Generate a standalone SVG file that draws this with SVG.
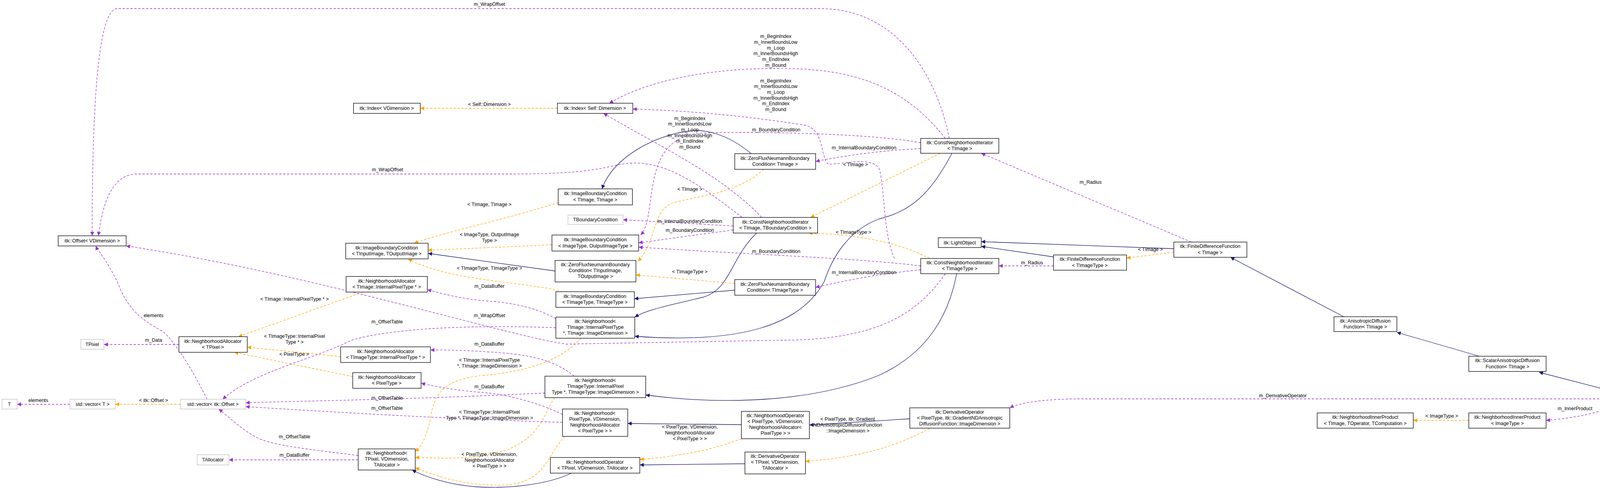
<svg xmlns="http://www.w3.org/2000/svg" width="4301" height="1248" viewBox="0 0 4301 1248">
<style>
text{font-family:"Liberation Sans",Arial,sans-serif;font-size:12.5px;fill:#000;text-anchor:middle}
.n rect{fill:#fff;stroke:#000;stroke-width:1.3}
.u rect{fill:#fff;stroke:#bfbfbf;stroke-width:1.3}
.g rect{fill:#bfbfbf;stroke:#000;stroke-width:1.3}
.inh{fill:none;stroke:#191970;stroke-width:1.3;marker-end:url(#an)}
.tpl{fill:none;stroke:#ffa500;stroke-width:1.3;stroke-dasharray:6,4;marker-end:url(#ao)}
.use{fill:none;stroke:#9a32cd;stroke-width:1.3;stroke-dasharray:6,4;marker-end:url(#ap)}
</style>
<defs>
<marker id="an" viewBox="0 0 10 10" refX="10" refY="5" markerWidth="13" markerHeight="10" markerUnits="userSpaceOnUse" orient="auto"><path d="M0,0L10,5L0,10z" fill="#191970"/></marker>
<marker id="ao" viewBox="0 0 10 10" refX="10" refY="5" markerWidth="13" markerHeight="10" markerUnits="userSpaceOnUse" orient="auto"><path d="M0,0L10,5L0,10z" fill="#ffa500"/></marker>
<marker id="ap" viewBox="0 0 10 10" refX="10" refY="5" markerWidth="13" markerHeight="10" markerUnits="userSpaceOnUse" orient="auto"><path d="M0,0L10,5L0,10z" fill="#9a32cd"/></marker>
</defs>
<rect width="4301" height="1248" fill="#fff"/>
<g id="connectors">
<path class="inh" d="M1923,393 C1860,340 1800,330 1766,335 C1680,345 1570,400 1541,483"/>
<path class="inh" d="M1421,693 L1096,648"/>
<path class="inh" d="M1881,742 L1624,764"/>
<path class="inh" d="M1937,596 C1870,660 1870,740 1800,760 C1720,780 1660,790 1625,811"/>
<path class="inh" d="M2437,392 C2380,500 2330,540 2250,560 C2170,590 2130,660 2110,720 C2050,830 1900,880 1625,860"/>
<path class="inh" d="M2449,700 C2430,800 2380,900 2250,960 C2050,1040 1800,1030 1653,1010"/>
<path class="inh" d="M1898,1086 L1607,1083"/>
<path class="inh" d="M1907,1186 L1638,1189"/>
<path class="inh" d="M2329,1071 L2072,1087"/>
<path class="inh" d="M1463,1210 C1400,1240 1300,1250 1220,1245 C1150,1240 1090,1220 1055,1202"/>
<path class="inh" d="M3005,636 L2512,618"/>
<path class="inh" d="M2697,657 L2512,630"/>
<path class="inh" d="M3440,810 L3150,658"/>
<path class="inh" d="M3787,911 L3576,850"/>
<path class="inh" d="M4125,1000 L3940,952"/>

<path class="tpl" d="M1427,277 L1076,277"/>
<path class="tpl" d="M1429,518 C1300,560 1150,590 1060,622"/>
<path class="tpl" d="M1413,626 L1096,640"/>
<path class="tpl" d="M1440,746 C1350,720 1150,720 1045,662"/>
<path class="tpl" d="M1955,433 C1880,500 1780,500 1720,520 C1670,540 1680,620 1633,668"/>
<path class="tpl" d="M1881,725 L1628,703"/>
<path class="tpl" d="M2407,392 L2075,556"/>
<path class="tpl" d="M2380,661 C2300,620 2200,600 2070,596"/>
<path class="tpl" d="M929,747 L610,861"/>
<path class="tpl" d="M872,912 L633,888"/>
<path class="tpl" d="M903,963 L600,901"/>
<path class="tpl" d="M1487,865 C1440,920 1350,950 1240,960 C1120,970 1110,1020 1100,1080 C1090,1120 1080,1140 1063,1155"/>
<path class="tpl" d="M1420,1017 C1390,1060 1390,1110 1300,1150 C1200,1180 1120,1170 1063,1170"/>
<path class="tpl" d="M1447,1116 C1400,1160 1400,1230 1300,1240 C1200,1245 1120,1220 1063,1196"/>
<path class="tpl" d="M1898,1122 C1800,1160 1700,1170 1638,1175"/>
<path class="tpl" d="M2380,1095 C2300,1140 2200,1170 2062,1180"/>
<path class="tpl" d="M462,1034 L295,1034"/>
<path class="tpl" d="M3005,645 L2884,660"/>
<path class="tpl" d="M3760,1075 L3618,1075"/>

<path class="use" d="M2430,354 C2400,200 2300,22 2100,22 L300,22 C240,22 236,400 236,603"/>
<path class="use" d="M1900,556 C1800,480 1700,400 1590,420 C1520,435 1480,445 1300,445 L350,445 C280,445 260,540 252,603"/>
<path class="use" d="M2420,700 C2350,800 2250,870 2000,870 L1450,880 C1300,860 800,700 323,629"/>
<path class="use" d="M1423,838 C1200,830 1000,840 900,870 C800,920 650,950 570,1021"/>
<path class="use" d="M1395,1005 C1100,1020 800,1025 629,1030"/>
<path class="use" d="M1440,1080 C1100,1070 800,1050 629,1040"/>
<path class="use" d="M917,1165 C800,1150 700,1140 660,1120 C620,1100 590,1070 560,1046"/>
<path class="use" d="M530,1021 C500,960 460,890 420,850 C370,820 330,800 300,720 C270,660 250,640 245,629"/>
<path class="use" d="M179,1034 L44,1034"/>
<path class="use" d="M458,881 L266,881"/>
<path class="use" d="M917,1176 L586,1176"/>
<path class="use" d="M1423,815 C1380,790 1320,775 1250,770 C1180,765 1130,750 1094,741"/>
<path class="use" d="M1470,962 C1420,920 1350,905 1250,900 C1180,895 1130,895 1102,895"/>
<path class="use" d="M1440,1060 C1380,1030 1300,1010 1250,1005 C1180,1000 1120,990 1078,980"/>
<path class="use" d="M2420,354 C2300,200 2150,175 1990,175 C1800,175 1650,210 1560,264"/>
<path class="use" d="M2290,661 C2260,600 2265,470 2250,430 C2230,400 2160,420 2120,420 C2100,400 2110,330 2060,320 C1900,295 1750,282 1620,279"/>
<path class="use" d="M1950,556 C1850,450 1700,380 1545,290"/>
<path class="use" d="M2357,380 C2250,385 2150,400 2088,413"/>
<path class="use" d="M2357,365 C2250,345 2000,335 1800,340 C1700,345 1680,420 1670,480 C1660,540 1660,580 1640,601"/>
<path class="use" d="M1877,578 L1595,562"/>
<path class="use" d="M1877,588 L1635,621"/>
<path class="use" d="M2357,680 C2200,660 1900,650 1635,632"/>
<path class="use" d="M2357,690 C2250,700 2150,720 2088,735"/>
<path class="use" d="M3050,619 L2512,392"/>
<path class="use" d="M2697,680 L2557,680"/>
<path class="use" d="M4104,1020 L2770,1020 C2650,1020 2600,1035 2585,1043"/>
<path class="use" d="M4130,1039 C4080,1060 4020,1070 3958,1075"/>

<g id="labels">
<text x="1253" y="271">&lt; Self::Dimension &gt;</text>
<text x="1253" y="527">&lt; TImage, TImage &gt;</text>
<text x="1253" y="604">&lt; ImageType, OutputImage</text><text x="1253" y="619">Type &gt;</text>
<text x="1253" y="690">&lt; TImageType, TImageType &gt;</text>
<text x="1766" y="488">&lt; TImage &gt;</text>
<text x="1766" y="699">&lt; TImageType &gt;</text>
<text x="2190" y="425">&lt; TImage &gt;</text>
<text x="2185" y="598">&lt; TImageType &gt;</text>
<text x="754" y="769">&lt; TImage::InternalPixelType * &gt;</text>
<text x="754" y="864">&lt; TImageType::InternalPixel</text><text x="754" y="879">Type * &gt;</text>
<text x="753" y="910">&lt; PixelType &gt;</text>
<text x="1253" y="925">&lt; TImage::InternalPixelType</text><text x="1253" y="940">*, TImage::ImageDimension &gt;</text>
<text x="1253" y="1058">&lt; TImageType::InternalPixel</text><text x="1253" y="1073">Type *, TImageType::ImageDimension &gt;</text>
<text x="1253" y="1166">&lt; PixelType, VDimension,</text><text x="1253" y="1181">NeighborhoodAllocator</text><text x="1253" y="1196">&lt; PixelType &gt; &gt;</text>
<text x="1766" y="1096">&lt; PixelType, VDimension,</text><text x="1766" y="1111">NeighborhoodAllocator</text><text x="1766" y="1126">&lt; PixelType &gt; &gt;</text>
<text x="2170" y="1076">&lt; PixelType, itk::Gradient</text><text x="2170" y="1091">NDAnisotropicDiffusionFunction</text><text x="2170" y="1106">::ImageDimension &gt;</text>
<text x="393" y="1028">&lt; itk::Offset &gt;</text>
<text x="2945" y="642">&lt; TImage &gt;</text>
<text x="3691" y="1068">&lt; ImageType &gt;</text>
<text x="1253" y="15">m_WrapOffset</text>
<text x="992" y="438">m_WrapOffset</text>
<text x="1253" y="811">m_WrapOffset</text>
<text x="991" y="827">m_OffsetTable</text>
<text x="991" y="1022">m_OffsetTable</text>
<text x="991" y="1048">m_OffsetTable</text>
<text x="754" y="1121">m_OffsetTable</text>
<text x="393" y="811">elements</text>
<text x="98" y="1028">elements</text>
<text x="393" y="874">m_Data</text>
<text x="754" y="1168">m_DataBuffer</text>
<text x="1253" y="736">m_DataBuffer</text>
<text x="1253" y="884">m_DataBuffer</text>
<text x="1253" y="993">m_DataBuffer</text>
<text x="1986" y="97">m_BeginIndex</text><text x="1986" y="112">m_InnerBoundsLow</text><text x="1986" y="127">m_Loop</text><text x="1986" y="141">m_InnerBoundsHigh</text><text x="1986" y="156">m_EndIndex</text><text x="1986" y="171">m_Bound</text>
<text x="1986" y="211">m_BeginIndex</text><text x="1986" y="225">m_InnerBoundsLow</text><text x="1986" y="240">m_Loop</text><text x="1986" y="255">m_InnerBoundsHigh</text><text x="1986" y="269">m_EndIndex</text><text x="1986" y="284">m_Bound</text>
<text x="1766" y="307">m_BeginIndex</text><text x="1766" y="321">m_InnerBoundsLow</text><text x="1766" y="336">m_Loop</text><text x="1766" y="351">m_InnerBoundsHigh</text><text x="1766" y="365">m_EndIndex</text><text x="1766" y="380">m_Bound</text>
<text x="1987" y="336">m_BoundaryCondition</text>
<text x="2212" y="382">m_InternalBoundaryCondition</text>
<text x="1766" y="570">m_InternalBoundaryCondition</text>
<text x="1766" y="593">m_BoundaryCondition</text>
<text x="1987" y="647">m_BoundaryCondition</text>
<text x="2212" y="701">m_InternalBoundaryCondition</text>
<text x="2792" y="470">m_Radius</text>
<text x="2642" y="676">m_Radius</text>
<text x="3284" y="1016">m_DerivativeOperator</text>
<text x="4032" y="1049">m_InnerProduct</text>
</g>
</g>

<g id="offset" class="n"><rect x="149" y="603" width="174" height="26"/><text x="236" y="620">itk::Offset&lt; VDimension &gt;</text></g>
<g id="ibc_in_out" class="n"><rect x="885" y="622" width="211" height="40"/><text x="990" y="638">itk::ImageBoundaryCondition</text><text x="990" y="653">&lt; TInputImage, TOutputImage &gt;</text></g>
<g id="na_timage" class="n"><rect x="886" y="707" width="208" height="40"/><text x="990" y="723">itk::NeighborhoodAllocator</text><text x="990" y="738">&lt; TImage::InternalPixelType * &gt;</text></g>
<g id="tpixel" class="u"><rect x="207" y="868" width="59" height="25"/><text x="236" y="885">TPixel</text></g>
<g id="na_tpixel" class="n"><rect x="458" y="861" width="175" height="40"/><text x="545" y="877">itk::NeighborhoodAllocator</text><text x="545" y="892">&lt; TPixel &gt;</text></g>
<g id="na_timagetype" class="n"><rect x="872" y="887" width="230" height="40"/><text x="987" y="903">itk::NeighborhoodAllocator</text><text x="987" y="918">&lt; TImageType::InternalPixelType * &gt;</text></g>
<g id="na_pixeltype" class="n"><rect x="903" y="953" width="175" height="40"/><text x="990" y="969">itk::NeighborhoodAllocator</text><text x="990" y="984">&lt; PixelType &gt;</text></g>
<g id="t" class="u"><rect x="5" y="1021" width="39" height="25"/><text x="24" y="1038">T</text></g>
<g id="vector_t" class="u"><rect x="179" y="1021" width="116" height="25"/><text x="237" y="1038">std::vector&lt; T &gt;</text></g>
<g id="vector_offset" class="u"><rect x="462" y="1021" width="167" height="25"/><text x="545" y="1038">std::vector&lt; itk::Offset &gt;</text></g>
<g id="tallocator" class="u"><rect x="505" y="1163" width="81" height="26"/><text x="545" y="1180">TAllocator</text></g>
<g id="nb_tpixel" class="n"><rect x="917" y="1148" width="146" height="54"/><text x="990" y="1163">itk::Neighborhood&lt;</text><text x="990" y="1178">TPixel, VDimension,</text><text x="990" y="1193">TAllocator &gt;</text></g>
<g id="index_vdim" class="n"><rect x="905" y="264" width="171" height="26"/><text x="990" y="281">itk::Index&lt; VDimension &gt;</text></g>
<g id="index_self" class="n"><rect x="1427" y="264" width="193" height="26"/><text x="1523" y="281">itk::Index&lt; Self::Dimension &gt;</text></g>
<g id="zfnbc_timage" class="n"><rect x="1881" y="393" width="207" height="40"/><text x="1984" y="409">itk::ZeroFluxNeumannBoundary</text><text x="1984" y="424">Condition&lt; TImage &gt;</text></g>
<g id="ibc_timage" class="n"><rect x="1429" y="483" width="190" height="41"/><text x="1524" y="499">itk::ImageBoundaryCondition</text><text x="1524" y="515">&lt; TImage, TImage &gt;</text></g>
<g id="tboundary" class="u"><rect x="1454" y="550" width="141" height="24"/><text x="1524" y="566">TBoundaryCondition</text></g>
<g id="cni_tbc" class="n"><rect x="1877" y="556" width="216" height="40"/><text x="1985" y="572">itk::ConstNeighborhoodIterator</text><text x="1985" y="587">&lt; TImage, TBoundaryCondition &gt;</text></g>
<g id="ibc_imagetype" class="n"><rect x="1413" y="601" width="222" height="41"/><text x="1524" y="617">itk::ImageBoundaryCondition</text><text x="1524" y="633">&lt; ImageType, OutputImageType &gt;</text></g>
<g id="zfnbc_in_out" class="n"><rect x="1421" y="666" width="207" height="55"/><text x="1524" y="681">itk::ZeroFluxNeumannBoundary</text><text x="1524" y="696">Condition&lt; TInputImage,</text><text x="1524" y="711">TOutputImage &gt;</text></g>
<g id="zfnbc_timagetype" class="n"><rect x="1881" y="715" width="207" height="40"/><text x="1984" y="731">itk::ZeroFluxNeumannBoundary</text><text x="1984" y="746">Condition&lt; TImageType &gt;</text></g>
<g id="ibc_timagetype" class="n"><rect x="1423" y="746" width="201" height="40"/><text x="1523" y="762">itk::ImageBoundaryCondition</text><text x="1523" y="777">&lt; TImageType, TImageType &gt;</text></g>
<g id="nb_timage" class="n"><rect x="1423" y="811" width="202" height="54"/><text x="1524" y="826">itk::Neighborhood&lt;</text><text x="1524" y="841">TImage::InternalPixelType</text><text x="1524" y="856">*, TImage::ImageDimension &gt;</text></g>
<g id="nb_timagetype" class="n"><rect x="1395" y="962" width="258" height="55"/><text x="1524" y="977">itk::Neighborhood&lt;</text><text x="1524" y="992">TImageType::InternalPixel</text><text x="1524" y="1007">Type *, TImageType::ImageDimension &gt;</text></g>
<g id="nb_pixeltype" class="n"><rect x="1440" y="1046" width="167" height="70"/><text x="1523" y="1061">itk::Neighborhood&lt;</text><text x="1523" y="1076">PixelType, VDimension,</text><text x="1523" y="1091">NeighborhoodAllocator</text><text x="1523" y="1106">&lt; PixelType &gt; &gt;</text></g>
<g id="nop_pixeltype" class="n"><rect x="1898" y="1052" width="174" height="70"/><text x="1985" y="1067">itk::NeighborhoodOperator</text><text x="1985" y="1082">&lt; PixelType, VDimension,</text><text x="1985" y="1097">NeighborhoodAllocator&lt;</text><text x="1985" y="1112">PixelType &gt; &gt;</text></g>
<g id="nop_tpixel" class="n"><rect x="1409" y="1170" width="229" height="40"/><text x="1523" y="1186">itk::NeighborhoodOperator</text><text x="1523" y="1201">&lt; TPixel, VDimension, TAllocator &gt;</text></g>
<g id="dop_tpixel" class="n"><rect x="1907" y="1156" width="155" height="56"/><text x="1984" y="1171">itk::DerivativeOperator</text><text x="1984" y="1186">&lt; TPixel, VDimension,</text><text x="1984" y="1201">TAllocator &gt;</text></g>
<g id="cni_timage" class="n"><rect x="2357" y="354" width="200" height="38"/><text x="2457" y="369">itk::ConstNeighborhoodIterator</text><text x="2457" y="384">&lt; TImage &gt;</text></g>
<g id="cni_timagetype" class="n"><rect x="2357" y="661" width="200" height="39"/><text x="2457" y="676">itk::ConstNeighborhoodIterator</text><text x="2457" y="691">&lt; TImageType &gt;</text></g>
<g id="lightobject" class="n"><rect x="2402" y="608" width="110" height="25"/><text x="2457" y="625">itk::LightObject</text></g>
<g id="fdf_timagetype" class="n"><rect x="2697" y="652" width="187" height="39"/><text x="2790" y="667">itk::FiniteDifferenceFunction</text><text x="2790" y="683">&lt; TImageType &gt;</text></g>
<g id="fdf_timage" class="n"><rect x="3005" y="619" width="187" height="39"/><text x="3098" y="634">itk::FiniteDifferenceFunction</text><text x="3098" y="650">&lt; TImage &gt;</text></g>
<g id="adf" class="n"><rect x="3415" y="810" width="161" height="38"/><text x="3495" y="825">itk::AnisotropicDiffusion</text><text x="3495" y="840">Function&lt; TImage &gt;</text></g>
<g id="sadf" class="n"><rect x="3760" y="911" width="198" height="39"/><text x="3859" y="926">itk::ScalarAnisotropicDiffusion</text><text x="3859" y="942">Function&lt; TImage &gt;</text></g>
<g id="gadf" class="g"><rect x="4104" y="1000" width="191" height="39"/><text x="4199" y="1015">itk::GradientNDAnisotropic</text><text x="4199" y="1031">DiffusionFunction&lt; TImage &gt;</text></g>
<g id="nip_generic" class="n"><rect x="3372" y="1056" width="246" height="39"/><text x="3495" y="1071">itk::NeighborhoodInnerProduct</text><text x="3495" y="1087">&lt; TImage, TOperator, TComputation &gt;</text></g>
<g id="nip_imagetype" class="n"><rect x="3760" y="1056" width="198" height="39"/><text x="3859" y="1071">itk::NeighborhoodInnerProduct</text><text x="3859" y="1087">&lt; ImageType &gt;</text></g>
<g id="dop_pixeltype" class="n"><rect x="2329" y="1043" width="256" height="52"/><text x="2457" y="1058">itk::DerivativeOperator</text><text x="2457" y="1073">&lt; PixelType, itk::GradientNDAnisotropic</text><text x="2457" y="1088">DiffusionFunction::ImageDimension &gt;</text></g>
</svg>
